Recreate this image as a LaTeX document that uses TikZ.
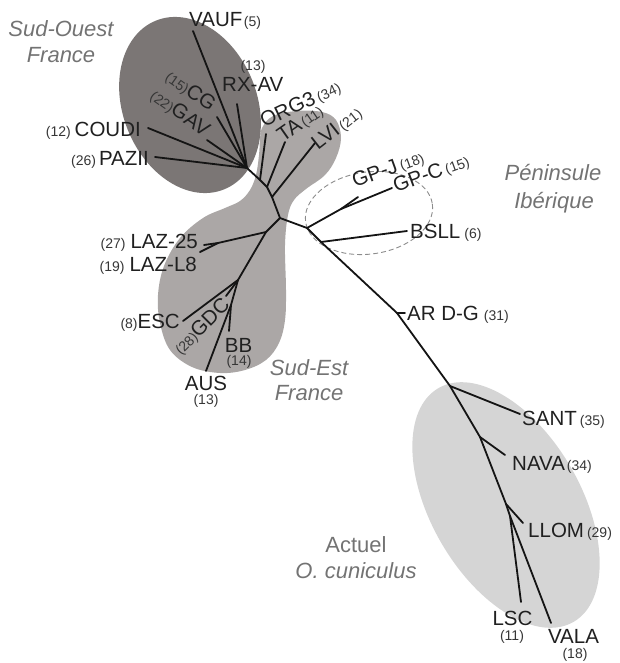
\documentclass[tikz,border=0pt]{standalone}
\usepackage{fontspec}
\setmainfont{Liberation Sans}
\usepackage{tikz}
\usetikzlibrary{positioning,calc}
\definecolor{Ink}{HTML}{202020}
\definecolor{NumInk}{HTML}{363636}
\definecolor{Region}{HTML}{737373}
\definecolor{WestFill}{HTML}{7B7675}
\definecolor{EastFill}{HTML}{ABA7A6}
\definecolor{NowFill}{HTML}{D5D5D5}
\definecolor{Dash}{HTML}{8C8C8C}
\newcommand{\popn}[1]{{\fontsize{14}{16}\selectfont\color{NumInk}#1}}

\begin{document}
\begin{tikzpicture}[x=1pt, y=-1pt, lab/.style={font=\fontsize{20.5}{22}\selectfont, text=Ink, inner sep=0pt}, num/.style={font=\fontsize{14}{16}\selectfont, text=NumInk, inner sep=0pt}, region/.style={font=\fontsize{22}{26}\selectfont\itshape, text=Region, inner sep=0pt}, branch/.style={line width=1.8pt, line cap=round, draw=black!92}]
\useasboundingbox (0,0) rectangle (620,663);
% group areas
\fill[EastFill] plot[smooth cycle, tension=0.6] coordinates {(262,128) (273,116) (297,111) (322,112) (336,120) (341,138) (336,158) (325,175) (306,189) (294,200) (288,215) (285,245) (286,290) (285,320) (279,343) (266,360) (245,370) (220,373) (192,367) (170,350) (160,323) (158,295) (164,266) (180,238) (203,218) (225,208) (240,201) (250,190) (256,175) (259,155) (260,140)};
\fill[WestFill, rotate around={-68:(190,105)}] (190,105) ellipse [x radius=91, y radius=67];
\fill[NowFill, rotate around={-60:(506,505)}] (506,505) ellipse [x radius=135, y radius=75];
\draw[Dash, line width=0.9pt, dash pattern=on 5pt off 3pt, rotate around={8:(369,213)}] (369,213) ellipse [x radius=64, y radius=41];
% region names
\node[region, anchor=base] (so1) at (61,37) {Sud-Ouest};
\node[region, anchor=base] (so2) at (61,63) {France};
\node[region, anchor=base] (pi1) at (553,180) {Péninsule};
\node[region, anchor=base] (pi2) at (554,208) {Ibérique};
\node[region, anchor=base] (se1) at (309,375) {Sud-Est};
\node[region, anchor=base] (se2) at (309,400) {France};
\node[region, anchor=base] (ac1) at (356,552) {\upshape Actuel};
\node[region, anchor=base] (ac2) at (356,578) {O. cuniculus};
% inner points of the tree
\coordinate (hw) at (247,168);
\coordinate (bo) at (260,180);
\coordinate (bt) at (267,187);
\coordinate (bl) at (272,197);
\coordinate (bse) at (280,218);
\coordinate (bgp) at (307,228);
\coordinate (gpj) at (341,209);
\coordinate (bbs) at (321,242);
\coordinate (bar) at (397,313);
\coordinate (bsa) at (450,386);
\coordinate (bna) at (480,437);
\coordinate (bll) at (506,504);
\coordinate (bls) at (510,516);
\coordinate (sl) at (266,232);
\coordinate (slz) at (218,243);
\coordinate (sg) at (238,280);
\coordinate (sb) at (231,305);
% tips
\coordinate (tvauf) at (193,31);
\coordinate (trxav) at (237,104);
\coordinate (tcg) at (217,117);
\coordinate (tgav) at (207,140);
\coordinate (tcoudi) at (148,128);
\coordinate (tpazii) at (155,157);
\coordinate (torg) at (266,134);
\coordinate (tta) at (285,142);
\coordinate (tlvi) at (315,143);
\coordinate (tgpj) at (358,197);
\coordinate (tgpc) at (392,188);
\coordinate (tbsll) at (407,231);
\coordinate (tardg) at (405,313);
\coordinate (tsant) at (520,414);
\coordinate (tnava) at (505,455);
\coordinate (tllom) at (523,523);
\coordinate (tlsc) at (521,602);
\coordinate (tvala) at (551,623);
\coordinate (tlaza) at (204,245);
\coordinate (tlazb) at (200,252);
\coordinate (tesc) at (183,321);
\coordinate (tgdc) at (226,296);
\coordinate (tbb) at (229,331);
\coordinate (taus) at (206,371);
% branches
\draw[branch] (hw)--(tvauf); \draw[branch] (hw)--(trxav); \draw[branch] (hw)--(tcg);
\draw[branch] (hw)--(tgav); \draw[branch] (hw)--(tcoudi); \draw[branch] (hw)--(tpazii);
\draw[branch] (hw)--(bo)--(bt)--(bl)--(bse)--(bgp)--(bbs)--(bar)--(bsa)--(bna)--(bll)--(bls)--(tvala);
\draw[branch] (bo)--(torg); \draw[branch] (bt)--(tta); \draw[branch] (bl)--(tlvi);
\draw[branch] (bgp)--(gpj)--(tgpc); \draw[branch] (gpj)--(tgpj); \draw[branch] (bbs)--(tbsll);
\draw[branch] (bar)--(tardg); \draw[branch] (bsa)--(tsant); \draw[branch] (bna)--(tnava);
\draw[branch] (bll)--(tllom); \draw[branch] (bls)--(tlsc);
\draw[branch] (bse)--(sl)--(sg)--(sb)--(taus); \draw[branch] (sl)--(slz)--(tlaza); \draw[branch] (slz)--(tlazb);
\draw[branch] (sg)--(tesc); \draw[branch] (sg)--(tgdc); \draw[branch] (sb)--(tbb);
% population labels
\node[lab, anchor=base west] (vauf) at (189,27) {VAUF\hspace{1.5pt}\popn{(5)}};
\node[lab, anchor=base west] (rxav) at (222,92) {RX-AV};
\node[num, anchor=base] (rxavn) at (253,71) {(13)};
\node[lab, anchor=base east, rotate=-35] (cg) at (210,112) {\popn{(15)}CG};
\node[lab, anchor=base east, rotate=-35] (gav) at (204,137) {\popn{(22)}GAV};
\node[lab, anchor=base east] (coudi) at (141,137) {\popn{(12)}\hspace{4pt}COUDI};
\node[lab, anchor=base east] (pazii) at (149,165) {\popn{(26)}\hspace{3pt}PAZII};
\node[lab, anchor=base west, rotate=25] (org) at (264,128) {ORG3\hspace{3pt}\popn{(34)}};
\node[lab, anchor=base west, rotate=35] (ta) at (283,143) {TA\hspace{2pt}\popn{(11)}};
\node[lab, anchor=base west, rotate=38] (lvi) at (318,151) {LVI\hspace{3pt}\popn{(21)}};
\node[lab, anchor=base west, rotate=20] (gpjl) at (355,188) {GP-J\hspace{3pt}\popn{(18)}};
\node[lab, anchor=base west, rotate=20] (gpcl) at (396,193) {GP-C\hspace{3pt}\popn{(15)}};
\node[lab, anchor=base west] (bsll) at (410,238) {BSLL\hspace{4pt}\popn{(6)}};
\node[lab, anchor=base west] (ardg) at (407,320) {AR D-G\hspace{5pt}\popn{(31)}};
\node[lab, anchor=base west] (sant) at (522,425) {SANT\hspace{3pt}\popn{(35)}};
\node[lab, anchor=base west] (nava) at (512,470) {NAVA\hspace{2pt}\popn{(34)}};
\node[lab, anchor=base west] (llom) at (528,537) {LLOM\hspace{3pt}\popn{(29)}};
\node[lab, anchor=base] (lsc) at (512.5,625) {LSC};
\node[num, anchor=base] (lscn) at (512,640) {(11)};
\node[lab, anchor=base] (vala) at (573.5,643) {VALA};
\node[num, anchor=base] (valan) at (575,658) {(18)};
\node[lab, anchor=base east] (laza) at (198,248) {\popn{(27)}\hspace{5pt}LAZ-25};
\node[lab, anchor=base east] (lazb) at (197,271) {\popn{(19)}\hspace{5pt}LAZ-L8};
\node[lab, anchor=base east] (esc) at (180,328) {\popn{(8)}ESC};
\node[lab, anchor=base east, rotate=45] (gdc) at (231,306) {\popn{(28)}GDC};
\node[lab, anchor=base] (bb) at (238.5,352) {BB};
\node[num, anchor=base] (bbn) at (239,365) {(14)};
\node[lab, anchor=base] (aus) at (206,390) {AUS};
\node[num, anchor=base] (ausn) at (206,404) {(13)};
\end{tikzpicture}
\end{document}
